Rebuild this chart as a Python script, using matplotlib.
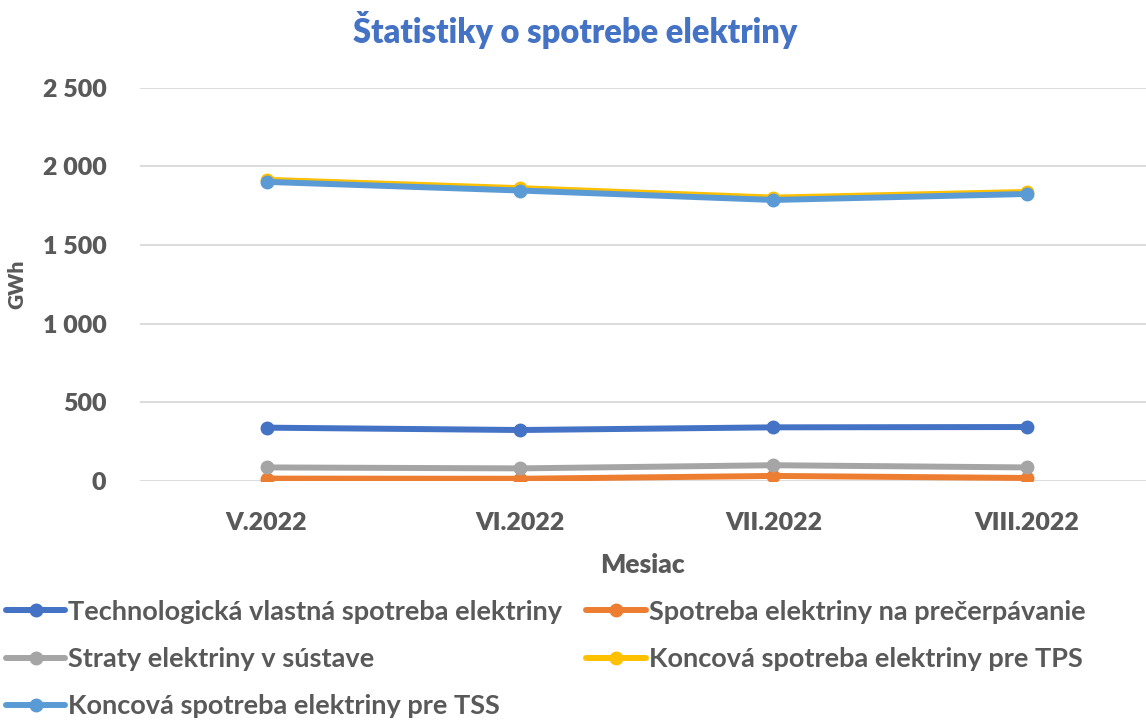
import matplotlib.pyplot as plt
import numpy as np

plt.rcParams['font.family'] = ['Lato', 'DejaVu Sans']

mesiace = ['V.2022', 'VI.2022', 'VII.2022', 'VIII.2022']
technologicka = [339, 324, 341, 343]
precerpavanie = [15, 14, 32, 19]
straty = [86, 80, 100, 86]
koncova_tps = [1915, 1862, 1802, 1838]
koncova_tss = [1902, 1847, 1787, 1825]

nazvy = ['Technologická vlastná spotreba elektriny',
         'Spotreba elektriny na prečerpávanie',
         'Straty elektriny v sústave',
         'Koncová spotreba elektriny pre TPS',
         'Koncová spotreba elektriny pre TSS']
farby = ['#4472C4', '#ED7D31', '#A5A5A5', '#FFC000', '#5B9BD5']
serie = [technologicka, precerpavanie, straty, koncova_tps, koncova_tss]

sediva = '#595959'

fig = plt.figure(figsize=(11.46, 7.2), dpi=100)
ax = fig.add_axes([0.122, 0.332, 0.878, 0.546])

x = np.arange(len(mesiace))
ciary = []
for hodnoty, nazov, farba in zip(serie, nazvy, farby):
    c, = ax.plot(x, hodnoty, color=farba, lw=4.3, marker='o', ms=9,
                 label=nazov, solid_capstyle='round')
    ciary.append(c)

ax.set_xlim(-0.5, 3.47)
ax.set_ylim(0, 2500)
ax.set_yticks(range(0, 2501, 500))
ax.set_yticklabels(['0', '500', '1 000', '1 500', '2 000', '2 500'])
ax.set_xticks(x)
ax.set_xticklabels(mesiace)
ax.grid(axis='y', color='#D9D9D9', lw=1.3)
ax.set_axisbelow(True)
for s in ax.spines.values():
    s.set_visible(False)
ax.tick_params(length=0, labelsize=18, labelcolor=sediva, pad=22)
ax.tick_params(axis='y', pad=24)
for t in ax.get_xticklabels() + ax.get_yticklabels():
    t.set_fontweight('heavy')

ax.set_ylabel('GWh', fontsize=15, fontweight='heavy', color=sediva, labelpad=12)
ax.set_xlabel('Mesiac', fontsize=19, fontweight='heavy', color=sediva, labelpad=14)

fig.suptitle('Štatistiky o spotrebe elektriny', x=0.502, y=0.985,
             fontsize=23.5, fontweight='heavy', color='#4472C4')

# poradie po riadkoch ako v Exceli
poradie = [0, 2, 4, 1, 3]
leg = fig.legend([ciary[i] for i in poradie], [nazvy[i] for i in poradie],
                 loc='upper left', bbox_to_anchor=(0.005, 0.167), ncol=2,
                 frameon=False, fontsize=19.5, handlelength=2.2,
                 handletextpad=0.1, columnspacing=0.9, labelspacing=0.86,
                 borderaxespad=0, borderpad=0.0)
for t in leg.get_texts():
    t.set_color(sediva)
    t.set_fontweight('bold')

fig.savefig('out.png', dpi=100)
